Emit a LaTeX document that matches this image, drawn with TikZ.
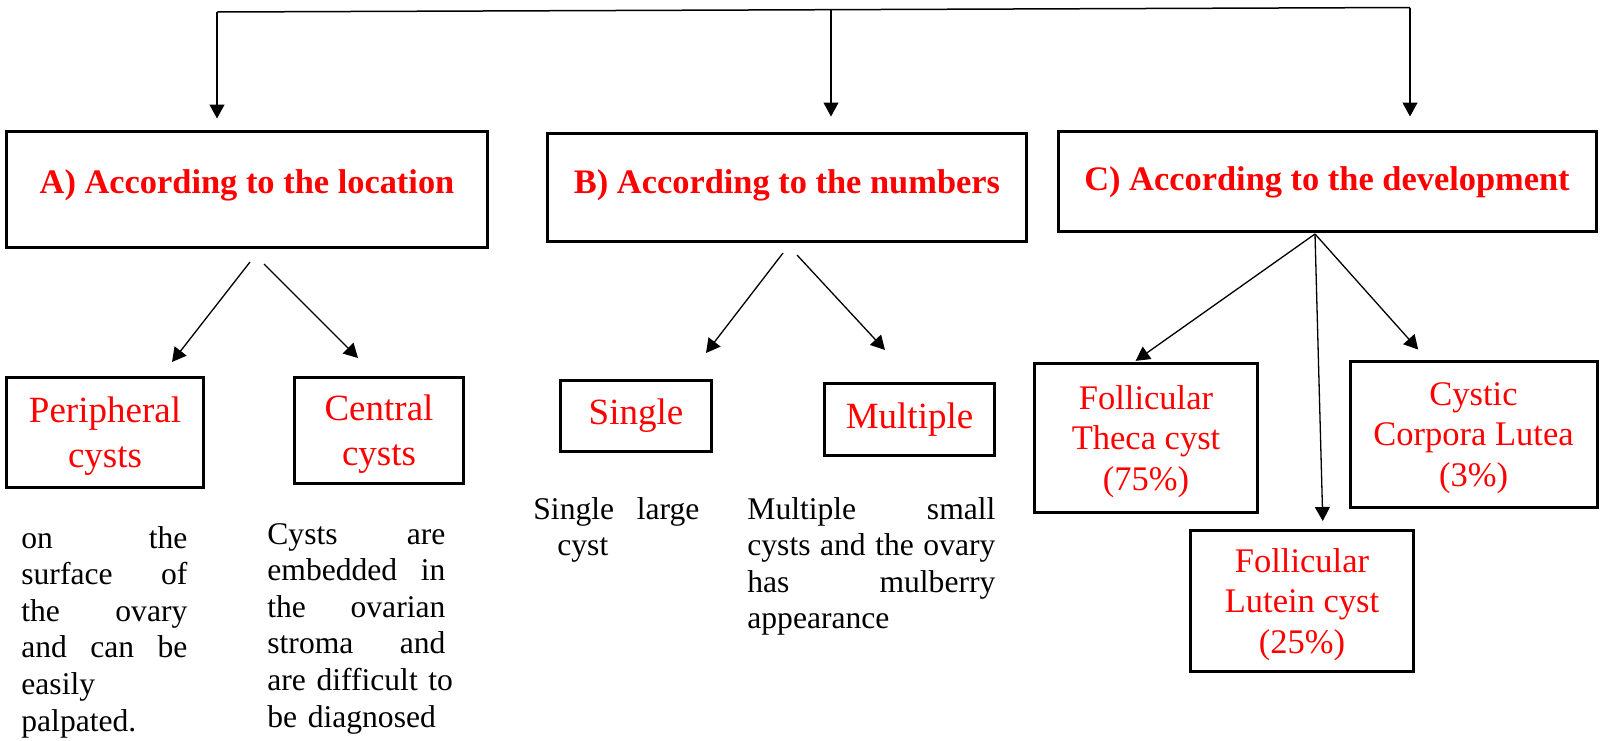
\documentclass[tikz,border=0pt]{standalone}
\usepackage{fontspec}
\setmainfont{Liberation Serif}
\usetikzlibrary{arrows.meta}

\begin{document}
\begin{tikzpicture}[x = 0.5pt, y = -0.5pt,
	arr/.style = {-{Triangle[length = 7pt, width = 7.5pt]}, line width = 0.65pt},
	hbox/.style = {draw, line width = 1.5pt, text = red, font = \fontsize{17.2}{20}\selectfont\bfseries, text height = 12pt},
	kbox/.style = {draw, line width = 1.5pt, text = red, align = center, font = \fontsize{18.5}{22.5}\selectfont},
	sbox/.style = {draw, line width = 1.5pt, text = red, align = center, text depth = 0pt, font = \fontsize{17.25}{20.4}\selectfont},
	desc/.style = {anchor = base west, inner sep = 0pt, align = left, font = \fontsize{15.8}{18.3}\selectfont}]

\useasboundingbox (0,0) rectangle (1600,740);

%% Headings

\node[hbox, text depth = 8.5pt, minimum width = 240.5pt, minimum height = 58pt] (locA) at (247,189.5) {A) According to the location};

\node[hbox, text depth = 6.5pt, minimum width = 239.5pt, minimum height = 54pt] (numB) at (787,187.5) {B) According to the numbers};

\node[hbox, text depth = 3.5pt, minimum width = 269pt, minimum height = 50pt] (devC) at (1327,181.5) {C) According to the development};

%% Top bracket

\coordinate (tl) at (217,12);
\coordinate (tm) at (831,9.5);
\coordinate (tr) at (1410,7.5);

\draw[line width = 0.75pt] (tl) -- (tr);

\draw[arr, shorten > = 5.75pt] (tl) -- (tl |- locA.north);
\draw[arr, shorten > = 7.75pt] (tm) -- (tm |- numB.north);
\draw[arr, shorten > = 6.75pt] (tr) -- (tr |- devC.north);

%% A) location

\node[kbox, text depth = 0pt, minimum width = 98.5pt, minimum height = 55pt] (peri) at (105,432.5) {Peripheral\\ cysts};

\node[kbox, text depth = 0pt, minimum width = 84.5pt, minimum height = 53pt] (cent) at (379,430.5) {Central\\ cysts};

\coordinate (a1) at (250,262);
\coordinate (a1e) at (172,362);
\coordinate (a2) at (264,264);
\coordinate (a2e) at (358,358);

\draw[arr] (a1) -- (a1e);
\draw[arr] (a2) -- (a2e);

\node[desc, text width = 83pt] (periText) at (21,548) {on\hfill the\\ surface\hfill of\\ the\hfill ovary\\ and\hfill can\hfill be\\ easily\\ palpated.};

\node[desc, text width = 89pt] (centText) at (267,544) {Cysts\hfill are\\ embedded\hfill in\\ the\hfill ovarian\\ stroma\hfill and\\ \mbox{are difficult to}\\ be diagnosed};

%% B) numbers

\node[kbox, minimum width = 75.5pt, minimum height = 35.5pt] (single) at (636,416) {Single};

\node[kbox, minimum width = 85pt, minimum height = 36pt] (multi) at (909.5,419.5) {Multiple};

\coordinate (b1) at (783,253);
\coordinate (b1e) at (706,353);
\coordinate (b2) at (797,255);
\coordinate (b2e) at (885,350);

\draw[arr] (b1) -- (b1e);
\draw[arr] (b2) -- (b2e);

\node[desc, text width = 83pt] (singleText) at (533,519) {Single\hfill large\\ \hspace*{12pt}cyst};

\node[desc, text width = 124pt] (multiText) at (747,519) {Multiple\hfill small\\ cysts\hfill and\hfill the\hfill ovary\\ has\hfill mulberry\\ appearance};

%% C) development

\node[sbox, minimum width = 111.5pt, minimum height = 74.5pt] (theca) at (1146,438) {Follicular\\ Theca cyst\\ (75\%)};

\node[sbox, minimum width = 123.5pt, minimum height = 73pt] (cystic) at (1473.5,434.5) {Cystic\\ Corpora Lutea\\ (3\%)};

\node[sbox, minimum width = 111.5pt, minimum height = 70.5pt] (lutein) at (1302,601) {Follicular\\ Lutein cyst\\ (25\%)};

\coordinate (fan) at (1315,234);

\draw[arr, shorten > = 1pt] (fan) -- ([xshift = -6pt]theca.north);
\draw[arr, shorten > = 4pt] (fan) -- ([xshift = 10.5pt]lutein.north);
\draw[arr, shorten > = 7pt] (fan) -- ([xshift = -23pt]cystic.north);

\end{tikzpicture}
\end{document}
